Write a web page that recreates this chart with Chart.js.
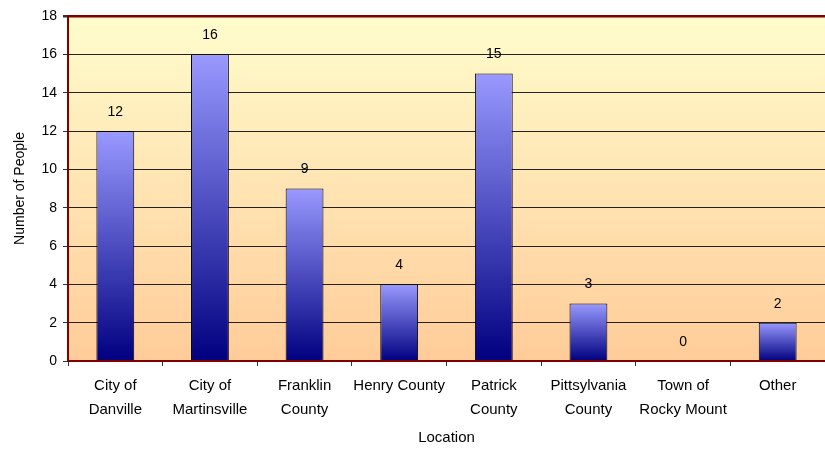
<!DOCTYPE html>
<html>
<head>
<meta charset="utf-8">
<style>
    html, body { margin: 0; padding: 0; background: #fff; }
    #wrap { width: 825px; height: 449px; }
</style>
<script src="https://cdn.jsdelivr.net/npm/chart.js@4"></script>
</head>
<body>
<div id="wrap"><canvas id="peopleChart" width="825" height="449"></canvas></div>
<script>
    // Chart data
    const locations = [
        ['City of', 'Danville'],
        ['City of', 'Martinsville'],
        ['Franklin', 'County'],
        'Henry County',
        ['Patrick', 'County'],
        ['Pittsylvania', 'County'],
        ['Town of', 'Rocky Mount'],
        'Other'
    ];
    const people = [12, 16, 9, 4, 15, 3, 0, 2];
    const yMin = 0;
    const yMax = 18;
    const yStep = 2;

    const fontFamily = '"Liberation Sans", Arial, sans-serif';

    // plot background gradient (yellow to peach)
    const plotBackground = {
        id: 'plotBackground',
        beforeDraw(chart) {
            const { ctx, chartArea } = chart;
            const g = ctx.createLinearGradient(0, chartArea.top, 0, chartArea.bottom);
            g.addColorStop(0, '#FFFCCC');
            g.addColorStop(1, '#FFCC99');
            ctx.save();
            ctx.fillStyle = g;
            ctx.fillRect(chartArea.left, chartArea.top, chartArea.right - chartArea.left, chartArea.bottom - chartArea.top);
            ctx.restore();
        }
    };

    // value labels above each bar
    const valueLabels = {
        id: 'valueLabels',
        afterDatasetsDraw(chart) {
            const { ctx } = chart;
            const meta = chart.getDatasetMeta(0);
            ctx.save();
            ctx.font = '14px ' + fontFamily;
            ctx.fillStyle = '#000';
            ctx.textAlign = 'center';
            ctx.textBaseline = 'middle';
            meta.data.forEach((bar, i) => {
                ctx.fillText(String(people[i]), bar.x, bar.y - 19);
            });
            ctx.restore();
        }
    };

    function barGradient(context) {
        const chart = context.chart;
        if (!chart.chartArea || context.parsed == null) return '#6666CC';
        const y = chart.scales.y;
        const top = y.getPixelForValue(context.parsed.y);
        const bottom = y.getPixelForValue(0);
        if (bottom - top < 1) return '#000080';
        const g = chart.ctx.createLinearGradient(0, top, 0, bottom);
        g.addColorStop(0, '#9999FF');
        g.addColorStop(1, '#000080');
        return g;
    }

    function createPeopleChart() {
        const ctx = document.getElementById('peopleChart').getContext('2d');
        new Chart(ctx, {
            type: 'bar',
            data: {
                labels: locations,
                datasets: [{
                    data: people,
                    backgroundColor: barGradient,
                    borderColor: '#000',
                    borderWidth: 1,
                    borderSkipped: 'bottom',
                    categoryPercentage: 1,
                    barPercentage: 0.4
                }]
            },
            plugins: [plotBackground, valueLabels],
            options: {
                responsive: false,
                animation: false,
                devicePixelRatio: 1,
                layout: { padding: { top: 16, right: 0, bottom: 0, left: 0 } },
                scales: {
                    y: {
                        min: yMin,
                        max: yMax,
                        afterFit(scale) { scale.width = 68; },
                        ticks: {
                            stepSize: yStep,
                            color: '#000',
                            padding: 6,
                            font: { family: fontFamily, size: 14 }
                        },
                        grid: {
                            color: function (c) {
                                return c.tick && c.tick.value === yMax ? '#800000' : '#222';
                            },
                            lineWidth: function (c) {
                                return c.tick && c.tick.value === yMax ? 2.5 : 1;
                            },
                            tickColor: '#333',
                            tickLength: 5
                        },
                        border: { color: '#800000', width: 2 },
                        title: {
                            display: true,
                            text: 'Number of People',
                            color: '#000',
                            font: { family: fontFamily, size: 14 },
                            padding: { top: 12, bottom: 0 }
                        }
                    },
                    x: {
                        afterFit(scale) { scale.height = 88; },
                        ticks: {
                            color: '#000',
                            padding: 8,
                            maxRotation: 0,
                            autoSkip: false,
                            font: { family: fontFamily, size: 15, lineHeight: 1.6 }
                        },
                        grid: {
                            offset: true,
                            drawOnChartArea: false,
                            color: '#333',
                            tickLength: 5
                        },
                        border: { color: '#800000', width: 2, z: 1 },
                        title: {
                            display: true,
                            text: 'Location',
                            color: '#000',
                            font: { family: fontFamily, size: 15 },
                            padding: { top: 0, bottom: 2 }
                        }
                    }
                },
                plugins: {
                    legend: { display: false },
                    tooltip: { enabled: false }
                }
            }
        });
    }

    createPeopleChart();
</script>
</body>
</html>
